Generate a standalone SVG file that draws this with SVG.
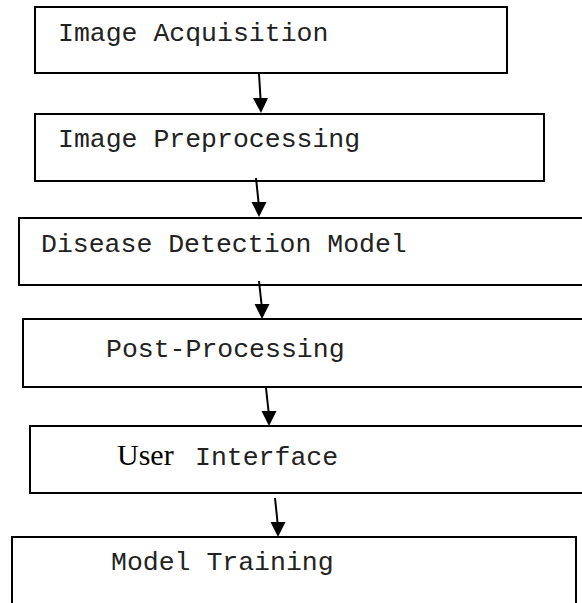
<svg xmlns="http://www.w3.org/2000/svg" width="582" height="603" viewBox="0 0 582 603">
<style>
.box{fill:#fff;stroke:#000;stroke-width:2}
.t{font-family:"Liberation Mono","Courier New",monospace;font-size:26.5px;fill:#222}
.s{font-family:"Liberation Serif","Times New Roman",serif;font-size:30px;fill:#000}
.c{stroke:#000;stroke-width:2;fill:none}
</style>
<rect width="582" height="603" fill="#fff"/>
<g id="n1"><rect class="box" x="35" y="7" width="472" height="66"/><text class="t" x="58" y="41">Image Acquisition</text></g>
<g id="n2"><rect class="box" x="35" y="114" width="509" height="67"/><text class="t" x="58" y="147">Image Preprocessing</text></g>
<g id="n3"><rect class="box" x="19" y="218" width="580" height="67"/><text class="t" x="41" y="252">Disease Detection Model</text></g>
<g id="n4"><rect class="box" x="23" y="319" width="580" height="68"/><text class="t" x="106" y="357">Post-Processing</text></g>
<g id="n5"><rect class="box" x="30" y="426" width="580" height="67"/><text x="117" y="465"><tspan class="s">User</tspan><tspan class="t" x="195">Interface</tspan></text></g>
<g id="n6"><rect class="box" x="12" y="537" width="564" height="80"/><text class="t" x="111" y="570">Model Training</text></g>
<g id="connectors">
<path d="M259,74 L260.5,98" class="c"/><path d="M253,98 L268,98 L261,113 Z"/>
<path d="M256,178 L258.5,202" class="c"/><path d="M251.5,202 L266.5,202 L259,217 Z"/>
<path d="M259,281 L261.5,304" class="c"/><path d="M254.5,304 L269.5,304 L262,319 Z"/>
<path d="M266,388 L268.5,411" class="c"/><path d="M261.5,411 L276.5,411 L269,426 Z"/>
<path d="M275,498 L277.5,522" class="c"/><path d="M270.5,522 L285.5,522 L278,537 Z"/>
</g>
</svg>
